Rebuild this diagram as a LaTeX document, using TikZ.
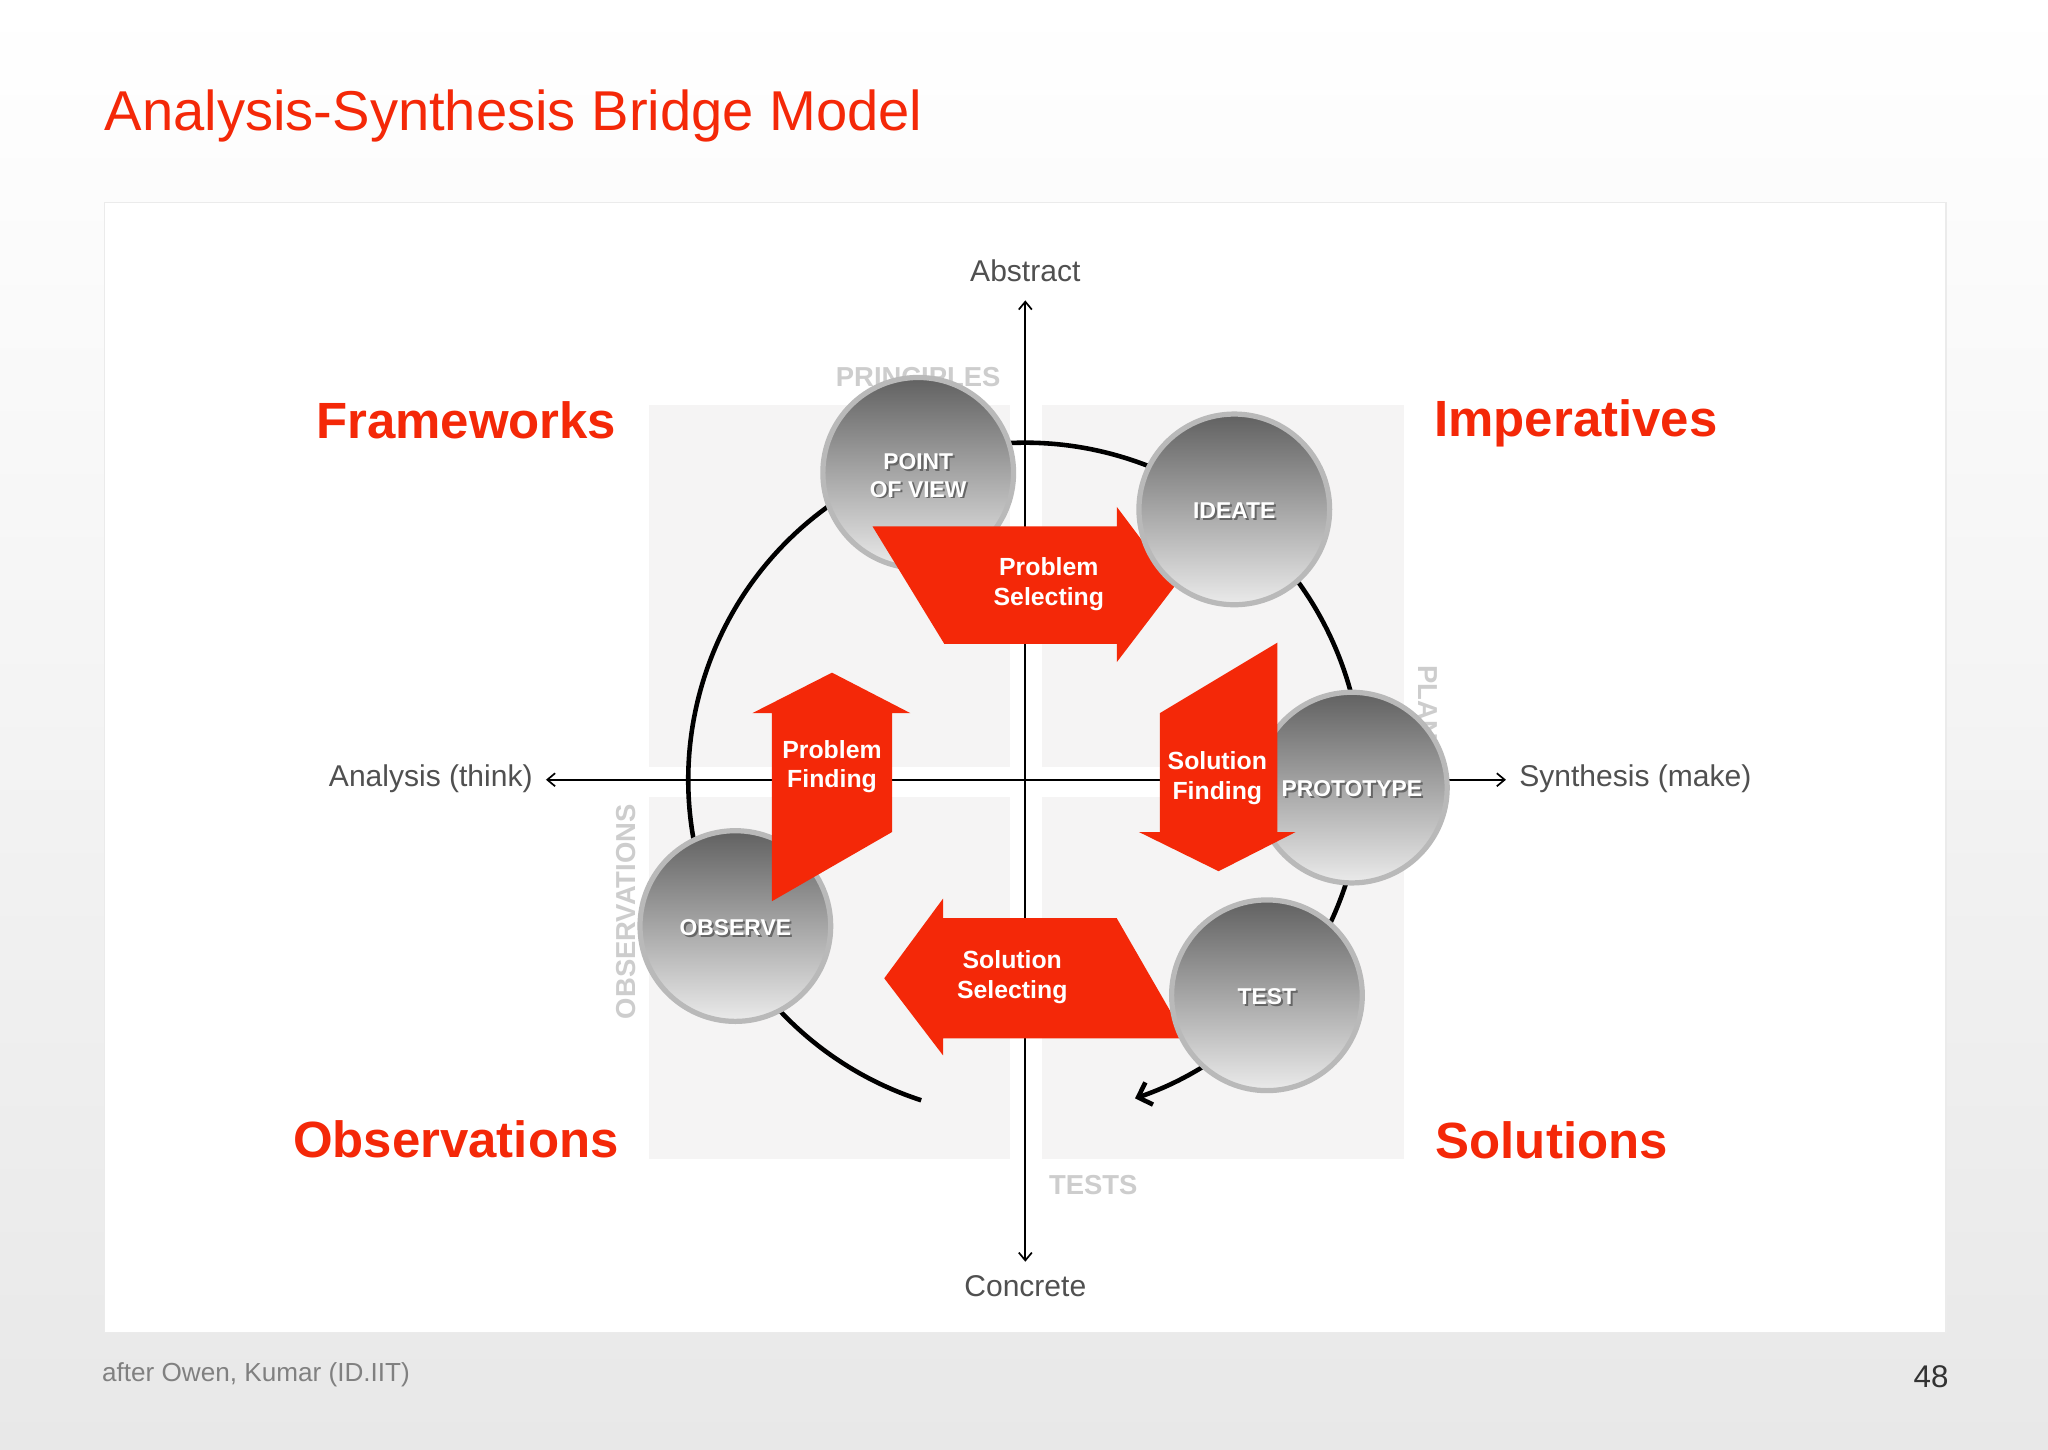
\documentclass[tikz,border=0pt]{standalone}
\usepackage{fontspec}
\setmainfont{Liberation Sans}
\usetikzlibrary{arrows.meta}
\definecolor{myred}{RGB}{244,40,8}
\definecolor{axisgray}{RGB}{80,80,80}
\definecolor{lblgray}{RGB}{205,205,205}
\definecolor{quad}{RGB}{245,244,244}
\newcommand{\fs}[1]{\fontsize{#1pt}{\dimexpr #1pt*6/5\relax}\selectfont}
\begin{document}
\begin{tikzpicture}[x=1pt,y=-1pt,
  big/.style={font=\fs{39}\bfseries, text=myred, inner sep=0},
  axl/.style={font=\fs{23}, text=axisgray, inner sep=0},
  faint/.style={font=\fs{21}\bfseries, text=lblgray, inner sep=0},
  ball/.style={circle, minimum size=146pt, draw=gray!55, line width=4pt, top color=black!62, bottom color=black!8, inner sep=0},
  balltxt/.style={font=\fs{17.5}\bfseries, text=white, align=center, inner sep=0},
  redarrow/.style={fill=myred, draw=none},
  redtxt/.style={font=\fs{19}\bfseries, text=white, align=center, inner sep=0},
  ax/.style={line width=1.3pt, black, -{Straight Barb[length=6pt,width=10pt]}}]
\useasboundingbox (0,0) rectangle (1568,1110);
\shade[top color=white, bottom color=black!9] (0,0) rectangle (1568,1110);
\fill[white] (80,155) rectangle (1490,1020);
\draw[black!8, line width=1pt] (80,155) rectangle (1490,1020);
\node[anchor=base west, font=\fs{43}, text=myred, inner sep=0] (title) at (80,100) {Analysis-Synthesis Bridge Model};
% quadrants
\fill[quad] (497,310) rectangle (773,587);
\fill[quad] (798,310) rectangle (1075,587);
\fill[quad] (497,610) rectangle (773,887);
\fill[quad] (798,610) rectangle (1075,887);
% faint labels
\node[faint] (pr) at (703,289) {PRINCIPLES};
\node[faint, rotate=90] (obs) at (479,698) {OBSERVATIONS};
\node[faint] (ts) at (837,907) {TESTS};
\node[faint, rotate=-90] (pl) at (1093,545) {PLANS};
% axes
\coordinate (c) at (785,597);
\node[axl] (abs) at (785,207) {Abstract};
\node[axl] (con) at (785,985) {Concrete};
\node[axl, anchor=east] (ana) at (408,596) {Analysis (think)};
\node[axl, anchor=west] (syn) at (1163,596) {Synthesis (make)};
\coordinate (at) at (785,230); \coordinate (ab) at (785,966);
\coordinate (al) at (418,597); \coordinate (ar) at (1153,597);
\draw[ax] (c) -- (at); \draw[ax] (c) -- (ab);
\draw[ax] (c) -- (al); \draw[ax] (c) -- (ar);
% big labels
\node[big] (fw) at (357,322) {Frameworks};
\node[big, anchor=west] (im) at (1098,324) {Imperatives};
\node[big] (ob) at (349,872) {Observations};
\node[big, anchor=west] (so) at (1099,873) {Solutions};
% cycle
\draw[line width=3.5pt, -{Straight Barb[length=9pt,width=18pt]}] (c) ++(108:258) arc[start angle=108, end angle=431, radius=258];
% balls
\node[ball] (pov) at (703,362) {};
\node[balltxt, text=black!60] at (704.5,365.5) {POINT\\OF VIEW};
\node[balltxt] (povt) at (703,364) {POINT\\OF VIEW};
\node[ball] (obsv) at (563,709) {};
\node[balltxt, text=black!60] at (564.5,711.5) {OBSERVE};
\node[balltxt] at (563,710) {OBSERVE};
\node[ball] (proto) at (1035,603) {};
\node[balltxt, text=black!60] at (1036.5,605.5) {PROTOTYPE};
\node[balltxt] at (1035,604) {PROTOTYPE};
% red arrows
\fill[redarrow] (668,403) -- (855,403) -- (855,388) -- (900,448) -- (855,507) -- (855,493) -- (723,493) -- cycle;
\node[redtxt] (ps) at (803,447) {Problem\\Selecting};
\fill[redarrow] (888,546) -- (978,492) -- (978,637) -- (992,637) -- (933,667) -- (872,637) -- (888,637) -- cycle;
\node[redtxt] (sf) at (932,596) {Solution\\Finding};
\fill[redarrow] (591,690) -- (591,546) -- (576,546) -- (637,515) -- (697,546) -- (683,546) -- (683,637) -- cycle;
\node[redtxt] (pf) at (637,587) {Problem\\Finding};
\fill[redarrow] (908,795) -- (722,795) -- (722,808) -- (677,749) -- (722,688) -- (722,703) -- (855,703) -- cycle;
\node[redtxt] (ss) at (775,748) {Solution\\Selecting};
\node[ball] (ide) at (945,390) {};
\node[balltxt, text=black!60] at (946.5,392.5) {IDEATE};
\node[balltxt] at (945,391) {IDEATE};
\node[ball] (tst) at (970,762) {};
\node[balltxt, text=black!60] at (971.5,764.5) {TEST};
\node[balltxt] at (970,763) {TEST};
% footer
\node[anchor=base west, font=\fs{20}, text=black!50, inner sep=0] (ft) at (78,1058) {after Owen, Kumar (ID.IIT)};
\node[anchor=base east, font=\fs{24}, text=black!80, inner sep=0] (pg) at (1492,1062) {48};
\end{tikzpicture}
\end{document}
